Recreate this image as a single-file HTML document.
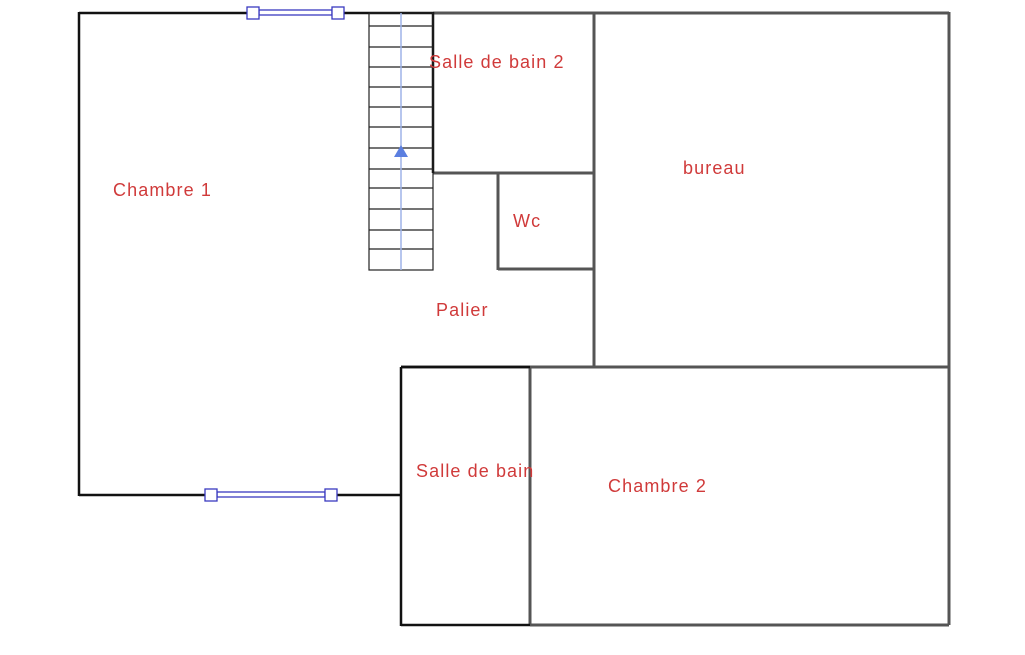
<!DOCTYPE html>
<html><head><meta charset="utf-8"><style>
body{margin:0;background:#fff;width:1025px;height:650px;overflow:hidden}
svg text{font-family:"Liberation Sans",sans-serif;font-size:18px;letter-spacing:1.1px;fill:#d03a3a}
</style></head><body>
<svg width="1025" height="650" xmlns="http://www.w3.org/2000/svg">
<g stroke="#555" stroke-width="3" fill="none">
<line x1="433" y1="13" x2="949" y2="13"/>
<line x1="949" y1="12" x2="949" y2="625"/>
<line x1="594" y1="12" x2="594" y2="367"/>
<line x1="401" y1="367" x2="949" y2="367"/>
<line x1="433" y1="173" x2="594" y2="173"/>
<line x1="498" y1="173" x2="498" y2="270"/>
<line x1="498" y1="269" x2="594" y2="269"/>
<line x1="530" y1="367" x2="530" y2="625"/>
<line x1="530" y1="625" x2="949" y2="625"/>
</g>
<g stroke="#111" stroke-width="2.5" fill="none">
<line x1="79" y1="13" x2="433" y2="13"/>
<line x1="79" y1="12" x2="79" y2="496"/>
<line x1="79" y1="495" x2="401" y2="495"/>
<line x1="401" y1="367" x2="401" y2="626"/>
<line x1="401" y1="625" x2="530" y2="625"/>
<line x1="401" y1="367" x2="530" y2="367"/>
<line x1="433" y1="12" x2="433" y2="173"/>
</g>
<g stroke="#222" stroke-width="1.2" fill="none">
<rect x="369" y="13" width="64" height="257"/>
<line x1="369" y1="26" x2="433" y2="26"/><line x1="369" y1="47" x2="433" y2="47"/>
<line x1="369" y1="67" x2="433" y2="67"/><line x1="369" y1="87" x2="433" y2="87"/>
<line x1="369" y1="107" x2="433" y2="107"/><line x1="369" y1="127" x2="433" y2="127"/>
<line x1="369" y1="148" x2="433" y2="148"/><line x1="369" y1="169" x2="433" y2="169"/>
<line x1="369" y1="188" x2="433" y2="188"/><line x1="369" y1="209" x2="433" y2="209"/>
<line x1="369" y1="230" x2="433" y2="230"/><line x1="369" y1="249" x2="433" y2="249"/>
</g>
<line x1="401" y1="13" x2="401" y2="270" stroke="#9fb4e8" stroke-width="1.5"/>
<polygon points="401,145 394,157 408,157" fill="#5b7fe0"/>
<g stroke="#3a3ac0" stroke-width="1.3" fill="#fff">
<rect x="259" y="10" width="73" height="5"/>
<rect x="247" y="7" width="12" height="12"/><rect x="332" y="7" width="12" height="12"/>
<rect x="217" y="492" width="108" height="5"/>
<rect x="205" y="489" width="12" height="12"/><rect x="325" y="489" width="12" height="12"/>
</g>
<text x="429" y="68">Salle de bain 2</text>
<text x="683" y="174">bureau</text>
<text x="113" y="196">Chambre 1</text>
<text x="513" y="227">Wc</text>
<text x="436" y="316">Palier</text>
<text x="416" y="477">Salle de bain</text>
<text x="608" y="492">Chambre 2</text>
</svg>
</body></html>
